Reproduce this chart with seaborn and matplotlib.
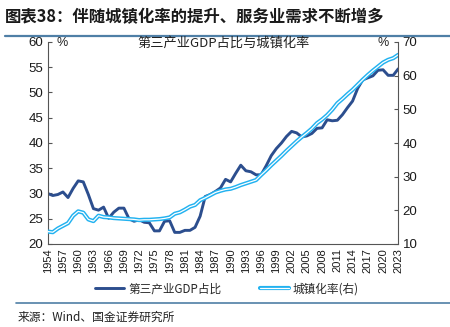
import numpy as np
import pandas as pd
import matplotlib
matplotlib.use("Agg")
import matplotlib.pyplot as plt
import seaborn as sns
from matplotlib.lines import Line2D
from matplotlib.legend_handler import HandlerTuple

years = list(range(1954, 2024))
tertiary = [30.0, 29.6, 29.8, 30.3, 29.2, 31.0, 32.5, 32.3, 29.8, 27.0,
            26.7, 27.3, 25.1, 26.3, 27.1, 27.1, 25.0, 24.5, 24.8, 24.3,
            24.2, 22.6, 22.6, 24.5, 24.6, 22.3, 22.3, 22.7, 22.7, 23.3,
            25.5, 29.4, 29.8, 30.4, 31.1, 32.8, 32.3, 34.0, 35.6, 34.5,
            34.3, 33.7, 33.7, 35.5, 37.5, 38.9, 40.0, 41.3, 42.3, 42.0,
            41.2, 41.4, 41.9, 42.9, 43.0, 44.6, 44.4, 44.5, 45.6, 47.0,
            48.3, 50.8, 52.5, 52.9, 53.3, 54.4, 54.5, 53.4, 53.4, 54.7]
urban = [13.7, 13.5, 14.6, 15.4, 16.2, 18.4, 19.7, 19.3, 17.3, 16.8,
         18.4, 18.0, 17.9, 17.7, 17.6, 17.5, 17.4, 17.3, 17.1, 17.2,
         17.2, 17.3, 17.4, 17.6, 17.9, 19.0, 19.4, 20.2, 21.1, 21.6,
         23.0, 23.7, 24.5, 25.3, 25.8, 26.2, 26.4, 26.9, 27.5, 28.0,
         28.5, 29.0, 30.5, 31.9, 33.4, 34.8, 36.2, 37.7, 39.1, 40.5,
         41.8, 43.0, 44.3, 45.9, 47.0, 48.3, 49.9, 51.8, 53.1, 54.5,
         55.8, 57.3, 58.8, 60.2, 61.5, 62.7, 63.9, 64.7, 65.2, 66.2]
xticks = list(range(1954, 2024, 3))
left_ticks = [20, 25, 30, 35, 40, 45, 50, 55, 60]
right_ticks = [10, 20, 30, 40, 50, 60, 70]

title_text = "图表38：伴随城镇化率的提升、服务业需求不断增多"
chart_title = "第三产业GDP占比与城镇化率"
label_tertiary = "第三产业GDP占比"
label_urban = "城镇化率(右)"
source_text = "来源：Wind、国金证券研究所"

sns.set_theme(style="white")
plt.rcParams['font.family'] = ['Liberation Sans', 'Noto Sans CJK SC', 'DejaVu Sans']

df = pd.DataFrame({"year": years, "tertiary": tertiary, "urban": urban})

dark = "#2C4E8E"
light = "#22B2F0"
spine_c = "#555555"

fig = plt.figure(figsize=(4.5, 3.27), dpi=100)
ax = fig.add_axes([47.7/450, 1-244/327, (398.3-47.7)/450, (244-42)/327])
ax2 = ax.twinx()

sns.lineplot(data=df, x="year", y="tertiary", ax=ax, color=dark, lw=2.1, legend=False)
sns.lineplot(data=df, x="year", y="urban", ax=ax2, color=light, lw=3.0, legend=False)
sns.lineplot(data=df, x="year", y="urban", ax=ax2, color="white", lw=0.9, legend=False)

ax.set_xlim(1954, 2023)
ax.set_ylim(20, 60)
ax2.set_ylim(10, 70)
ax.set_xticks(xticks)
ax.set_xticklabels([str(y) for y in xticks], rotation=90, fontsize=8)
ax.set_yticks(left_ticks)
ax.set_yticklabels([str(v) for v in left_ticks], fontsize=9.5)
ax2.set_yticks(right_ticks)
ax2.set_yticklabels([str(v) for v in right_ticks], fontsize=9.5)
ax.set_xlabel("")
ax.set_ylabel("")
ax2.set_ylabel("")

for a in (ax, ax2):
    a.spines['top'].set_visible(False)
    for s in ('left', 'right', 'bottom'):
        a.spines[s].set_color(spine_c)
        a.spines[s].set_linewidth(0.8)
    a.tick_params(direction='in', length=3, width=0.8, color=spine_c, labelcolor='#1a1a1a', pad=3)
ax.spines['right'].set_visible(False)
ax2.spines['left'].set_visible(False)
ax2.spines['bottom'].set_visible(False)
ax.grid(False)
ax2.grid(False)

cjk = ['Noto Sans CJK SC', 'DejaVu Sans']
fig.text(224/450, 1-43/327, chart_title, ha='center', va='center', fontsize=9.5,
         family=cjk, color='#222222')
fig.text(62/450, 1-43/327, "%", ha='center', va='center', fontsize=9, color='#222222')
fig.text(383/450, 1-43/327, "%", ha='center', va='center', fontsize=9, color='#222222')

h1 = Line2D([], [], color=dark, lw=2.1)
h2a = Line2D([], [], color=light, lw=3.0)
h2b = Line2D([], [], color="white", lw=0.9)
fig.legend([h1, (h2a, h2b)], [label_tertiary, label_urban],
           handler_map={tuple: HandlerTuple(ndivide=1, pad=0)},
           loc='center', bbox_to_anchor=(227/450, 1-289/327), ncol=2, frameon=False,
           handlelength=2.5, handletextpad=0.35, columnspacing=3.3,
           prop={'family': cjk, 'size': 8.4})

fig.text(5/450, 1-17/327, title_text, ha='left', va='center', fontsize=11.8,
         fontweight='bold', style='italic', family=cjk, color='#1a1a1a')
rule_c = "#4F7FA6"
fig.add_artist(Line2D([5/450, 1], [1-36/327, 1-36/327], color=rule_c, lw=1.6,
                      transform=fig.transFigure))
fig.add_artist(Line2D([16/450, 1], [1-303/327, 1-303/327], color=rule_c, lw=1.2,
                      transform=fig.transFigure))
fig.text(18/450, 1-317/327, source_text, ha='left', va='center', fontsize=8.5,
         family=cjk, color='#222222')

fig.savefig("out.png", dpi=100)
